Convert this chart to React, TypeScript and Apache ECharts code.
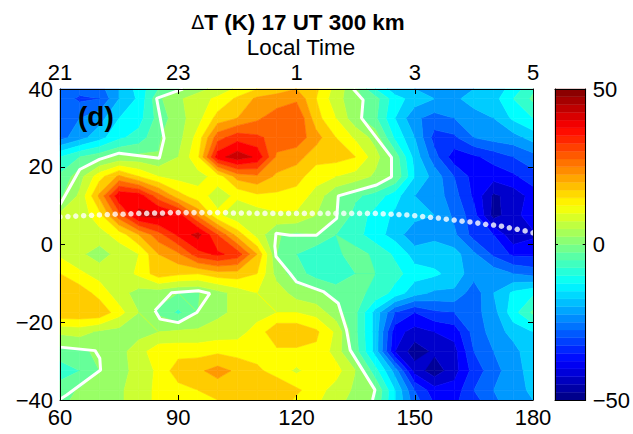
import React, { useEffect, useRef } from "react";
import * as echarts from "echarts";

const lons = [60,65,70,75,80,85,90,95,100,105,110,115,120,125,130,135,140,145,150,155,160,165,170,175,180];
const lats = [42.5,37.5,32.5,27.5,22.5,17.5,12.5,7.5,2.5,-2.5,-7.5,-12.5,-17.5,-22.5,-27.5,-32.5,-37.5,-42.5];
const dT = [
[-27,-25,-24,-20,-12,-9,-6,-2,3,6,9,14,16,17,9,0.5,-17,-23,-23,-22,-21,-22,-19,-16,-8],
[-27,-31,-30,-20,-14,-1,4,8,11,16,21,22,24,15,7,1.5,-3,-13,-17,-20,-21,-18,-17,-10,-4],
[-28,-25,-22,-15,-12,-3,3,8,17,20,24,28,30,17,10,1.5,-4,-15,-24,-27,-25,-22,-20,-14,-10],
[-27,-22,-17,-11,-8,-0.5,3,12,28,33,31,28,28,22,15,9,3,-11,-20,-32,-31,-25,-23,-22,-18],
[-10,-5,-2,1,1.5,0.2,5,14,38,43,39,24,22,17,17,15,7,-2,-17,-28,-38,-36,-33,-30,-27],
[-4,3,13,21,15,10,8,8,12,22,24,19,17,12,10,8,4,-0.5,-15,-22,-30,-37,-38,-36,-32],
[-1,6,21,39,38,27,17,12,8,11,14,14,13,8,0.5,-4,-7,-13,-20,-22,-28,-36,-46,-43,-38],
[6,7,13,28,41,42,38,24,11,6,7,9,9,5,0.2,-7,-12,-16,-18,-20,-26,-33,-47,-42,-37],
[7,7,8,12,20,28,36,42,30,18,8,0.3,-1,0,-5,-8,-13,-17,-24,-21,-24,-32,-35,-44,-41],
[9,6,2.5,7,10,20,24,33,36,33,20,0,-5,-9,-6,-3,-6,-11,-17,-18,-18,-24,-31,-36,-36],
[15,11,8,7,11,18,16,15,18,18,15,3,-3,-7,-9,-5,-5,-8,-13,-14,-17,-23,-22,-25,-27],
[19,18,13,7,3,2,0,-0.3,3,7,10,8,2.5,1,-2,-4,-6,-12,-18,-21,-21,-28,-20,-14,-11],
[19,19,19,12,5,-1,-6,0,4,6,8,10,10,8,2,-4,-17,-30,-35,-31,-30,-27,-22,-12,-4],
[6,7,4,3,3,5,6,6,7,8,12,19,19,16,9,-4,-17,-38,-42,-40,-38,-28,-23,-18,-15],
[-2,-1,1,3,8,13,13,13,14,13,13,14,14,14,8,-3,-17,-40,-48,-44,-42,-30,-25,-22,-16],
[-8,-5,0,3,7,11,18,19,22,19,16,13,9,13,12,5,-8,-22,-42,-48,-42,-33,-27,-22,-18],
[-2,0.5,3,4,8,11,13,15,17,19,16,19,16,12,8,4,0,-15,-30,-38,-38,-30,-25,-22,-19],
[0,1.5,1,4,8,11,13,11,13,13,16,19,12,10,6,2,-2,-15,-26,-34,-34,-34,-27,-22,-21],
];
const contourLevels = [-50,-45,-40,-35,-30,-25,-20,-15,-10,-5,0,5,10,15,20,25,30,35,40,45,50];
const barLevels = [-50,-47.5,-45,-42.5,-40,-37.5,-35,-32.5,-30,-27.5,-25,-22.5,-20,-17.5,-15,-12.5,-10,-7.5,-5,-2.5,0,2.5,5,7.5,10,12.5,15,17.5,20,22.5,25,27.5,30,32.5,35,37.5,40,42.5,45,47.5];
const zeroA = [[60,10.2],[65,19.3],[70,21.9],[75,23.5],[85.2,22.2],[86.4,27.3],[84.5,37.6],[90,39.6],[91.2,40]];
const zeroB = [[134.4,40],[136.9,37.2],[136.5,32.5],[144.1,22.4],[144.1,17.4],[140.3,15.3],[130.6,12.5],[130.2,6.7],[125.1,2.4],[118.3,2.4],[114.8,2.9],[114.5,-0.4],[114.8,-3.1],[118.3,-7.4],[120,-9.6],[126.8,-12.1],[130.6,-15.1],[132.7,-22],[133.6,-27.1],[139.9,-37.4],[139.3,-40]];
const zeroC = [[84.1,-17],[88.3,-12.4],[95.1,-11.9],[98,-12.6],[94.7,-17.5],[90,-20.1],[85.4,-19.2],[84.1,-17]];
const zeroD = [[60,-26.4],[68.9,-27.3],[70.1,-29.3],[70.3,-32.3],[61.7,-38.7],[60,-39.8]];
const equatorLon = [60,62,64,66,68,70,72,74,76,78,80,82,84,86,88,90,92,94,96,98,100,102,104,106,108,110,112,114,116,118,120,122,124,126,128,130,132,134,136,138,140,142,144,146,148,150,152,154,156,158,160,162,164,166,168,170,172,174,176,178,180];
const equatorLat = [7.1,7.2,7.3,7.4,7.5,7.6,7.7,7.8,7.8,7.9,8,8,8.1,8.1,8.2,8.2,8.2,8.2,8.2,8.2,8.2,8.2,8.1,8.1,8.1,8,8,8,8,8,8,8,8,8,8,8,8,8,8,8,8,7.9,7.8,7.7,7.6,7.4,7.2,7,6.8,6.5,6.3,6,5.8,5.5,5.2,5,4.7,4.3,3.9,3.5,3];
const bottomTicks = [60,90,120,150,180];
const topTicks = ["21","23","1","3","5"];

function jet(v: number) {
  const t = (v + 50) / 100;
  const c = (x: number) => Math.round(255 * Math.max(0, Math.min(1, 1.5 - Math.abs(4 * t - x))));
  return `rgb(${c(3)},${c(2)},${c(1)})`;
}

type P = [number, number, number];
function clip(poly: P[], level: number, keepAbove: boolean, k = 2): P[] {
  const out: P[] = [];
  const inside = (p: P) => (keepAbove ? p[k] >= level : p[k] <= level);
  for (let i = 0; i < poly.length; i++) {
    const a = poly[i];
    const b = poly[(i + 1) % poly.length];
    const ia = inside(a);
    const ib = inside(b);
    if (ia) out.push(a);
    if (ia !== ib) {
      const f = (level - a[k]) / (b[k] - a[k]);
      out.push([a[0] + f * (b[0] - a[0]), a[1] + f * (b[1] - a[1]), a[2] + f * (b[2] - a[2])]);
    }
  }
  return out;
}

const cells: number[][] = [];
for (let r = 0; r < lats.length - 1; r++) {
  for (let c = 0; c < lons.length - 1; c++) {
    cells.push([lons[c], lats[r], lons[c + 1], lats[r + 1], dT[r][c], dT[r][c + 1], dT[r + 1][c + 1], dT[r + 1][c]]);
  }
}

const renderCell = (_: any, api: any) => {
  const x0 = api.value(0), y0 = api.value(1), x1 = api.value(2), y1 = api.value(3);
  let quad: P[] = [[x0, y0, api.value(4)], [x1, y0, api.value(5)], [x1, y1, api.value(6)], [x0, y1, api.value(7)]];
  quad = clip(quad, 40, false, 1);
  if (quad.length) quad = clip(quad, -40, true, 1);
  const children: any[] = [];
  if (quad.length < 3) return { type: "group", children };
  for (let i = 0; i < contourLevels.length - 1; i++) {
    const lo = contourLevels[i], hi = contourLevels[i + 1];
    let poly = clip(quad, lo, true);
    if (poly.length) poly = clip(poly, hi, false);
    if (poly.length < 3) continue;
    const color = jet((lo + hi) / 2);
    children.push({
      type: "polygon",
      shape: { points: poly.map((p) => api.coord([p[0], p[1]])) },
      style: { fill: color, stroke: color, lineWidth: 0.6 },
    });
  }
  return { type: "group", children };
};

const renderBar = (_: any, api: any) => {
  const lo = api.value(0);
  const a = api.coord([0, lo]);
  const b = api.coord([1, lo + 2.5]);
  const color = jet(lo + 1.25);
  return {
    type: "rect",
    shape: { x: a[0], y: b[1], width: b[0] - a[0], height: a[1] - b[1] },
    style: { fill: color, stroke: color, lineWidth: 0.4 },
  };
};

const font = "Liberation Sans, Arial, sans-serif";
const line = { onZero: false, lineStyle: { color: "#000", width: 1 } };
const minus = (v: number) => String(v).replace("-", "\u2212");
const label = { color: "#000", fontSize: 22, fontFamily: font };

const zeroSeries = (data: number[][]) => ({
  type: "line", data, xAxisIndex: 0, yAxisIndex: 0, showSymbol: false, symbol: "none", smooth: false,
  lineStyle: { color: "#fff", width: 3 }, z: 6, clip: true,
});

export default function App() {
  const ref = useRef<HTMLDivElement>(null);
  useEffect(() => {
    const chart = echarts.init(ref.current!, undefined, { renderer: "svg" });
    chart.setOption({
      animation: false,
      backgroundColor: "#fff",
      textStyle: { fontFamily: font },
      title: [
        { text: "{d|\u0394}{t|T (K) 17 UT 300 km}", left: 293, top: 6, textAlign: "center",
          textStyle: { rich: { d: { fontSize: 19, fontWeight: "normal", fontFamily: "DejaVu Sans", color: "#000" }, t: { fontSize: 22.4, fontWeight: "bold", fontFamily: font, color: "#000" } } } },
        { text: "Local Time", left: 296, top: 31, textAlign: "center", textStyle: { fontSize: 22.4, fontWeight: "normal", fontFamily: font, color: "#000" } },
      ],
      grid: [
        { left: 60, top: 89, width: 473, height: 311 },
        { left: 555, top: 89, width: 33, height: 311 },
      ],
      xAxis: [
        { type: "value", gridIndex: 0, position: "bottom", min: 60, max: 180, interval: 30, z: 8,
          axisLine: line, axisTick: { inside: true, length: 5, lineStyle: { color: "#000" } }, splitLine: { show: false },
          axisLabel: { ...label, margin: 6 } },
        { type: "value", gridIndex: 0, position: "top", min: 60, max: 180, interval: 30, z: 8,
          axisLine: line, axisTick: { inside: true, length: 5, lineStyle: { color: "#000" } }, splitLine: { show: false },
          axisLabel: { ...label, margin: 6, formatter: (v: number) => topTicks[bottomTicks.indexOf(v)] } },
        { type: "value", gridIndex: 1, position: "bottom", min: 0, max: 1, z: 8, axisLine: line, axisTick: { show: false }, axisLabel: { show: false }, splitLine: { show: false } },
        { type: "value", gridIndex: 1, position: "top", min: 0, max: 1, z: 8, axisLine: line, axisTick: { show: false }, axisLabel: { show: false }, splitLine: { show: false } },
      ],
      yAxis: [
        { type: "value", gridIndex: 0, position: "left", min: -40, max: 40, interval: 20, z: 8,
          axisLine: line, axisTick: { inside: true, length: 5, lineStyle: { color: "#000" } }, splitLine: { show: false },
          axisLabel: { ...label, margin: 7, formatter: minus } },
        { type: "value", gridIndex: 0, position: "right", min: -40, max: 40, interval: 20, z: 8,
          axisLine: line, axisTick: { inside: true, length: 5, lineStyle: { color: "#000" } }, splitLine: { show: false }, axisLabel: { show: false } },
        { type: "value", gridIndex: 1, position: "left", min: -50, max: 50, interval: 50, z: 8,
          axisLine: line, axisTick: { inside: true, length: 3, lineStyle: { color: "#000" } }, splitLine: { show: false }, axisLabel: { show: false } },
        { type: "value", gridIndex: 1, position: "right", min: -50, max: 50, interval: 50, z: 8,
          axisLine: line, axisTick: { inside: true, length: 3, lineStyle: { color: "#000" } }, splitLine: { show: false },
          axisLabel: { ...label, margin: 7, formatter: minus } },
      ],
      series: [
        { type: "custom", xAxisIndex: 0, yAxisIndex: 0, data: cells, renderItem: renderCell, z: 2, silent: true,
          encode: { x: [0, 2], y: [1, 3] } },
        zeroSeries(zeroA), zeroSeries(zeroB), zeroSeries(zeroC), zeroSeries(zeroD),
        { type: "scatter", xAxisIndex: 0, yAxisIndex: 0, data: equatorLon.map((v, i) => [v, equatorLat[i]]), symbol: "circle", symbolSize: 5.5,
          itemStyle: { color: "#fff" }, z: 7, clip: false },
        { type: "custom", xAxisIndex: 2, yAxisIndex: 2, data: barLevels.map((v) => [v]), renderItem: renderBar, z: 2, silent: true,
          encode: { y: 0 } },
      ],
      graphic: [
        { type: "text", left: 78, top: 102, z: 20, style: { text: "(d)", fontSize: 28, fontWeight: "bold", fontFamily: font, fill: "#000" } },
      ],
    });
    return () => chart.dispose();
  }, []);
  return <div ref={ref} style={{ position: "absolute", left: 0, top: 0, width: 633, height: 434 }} />;
}
